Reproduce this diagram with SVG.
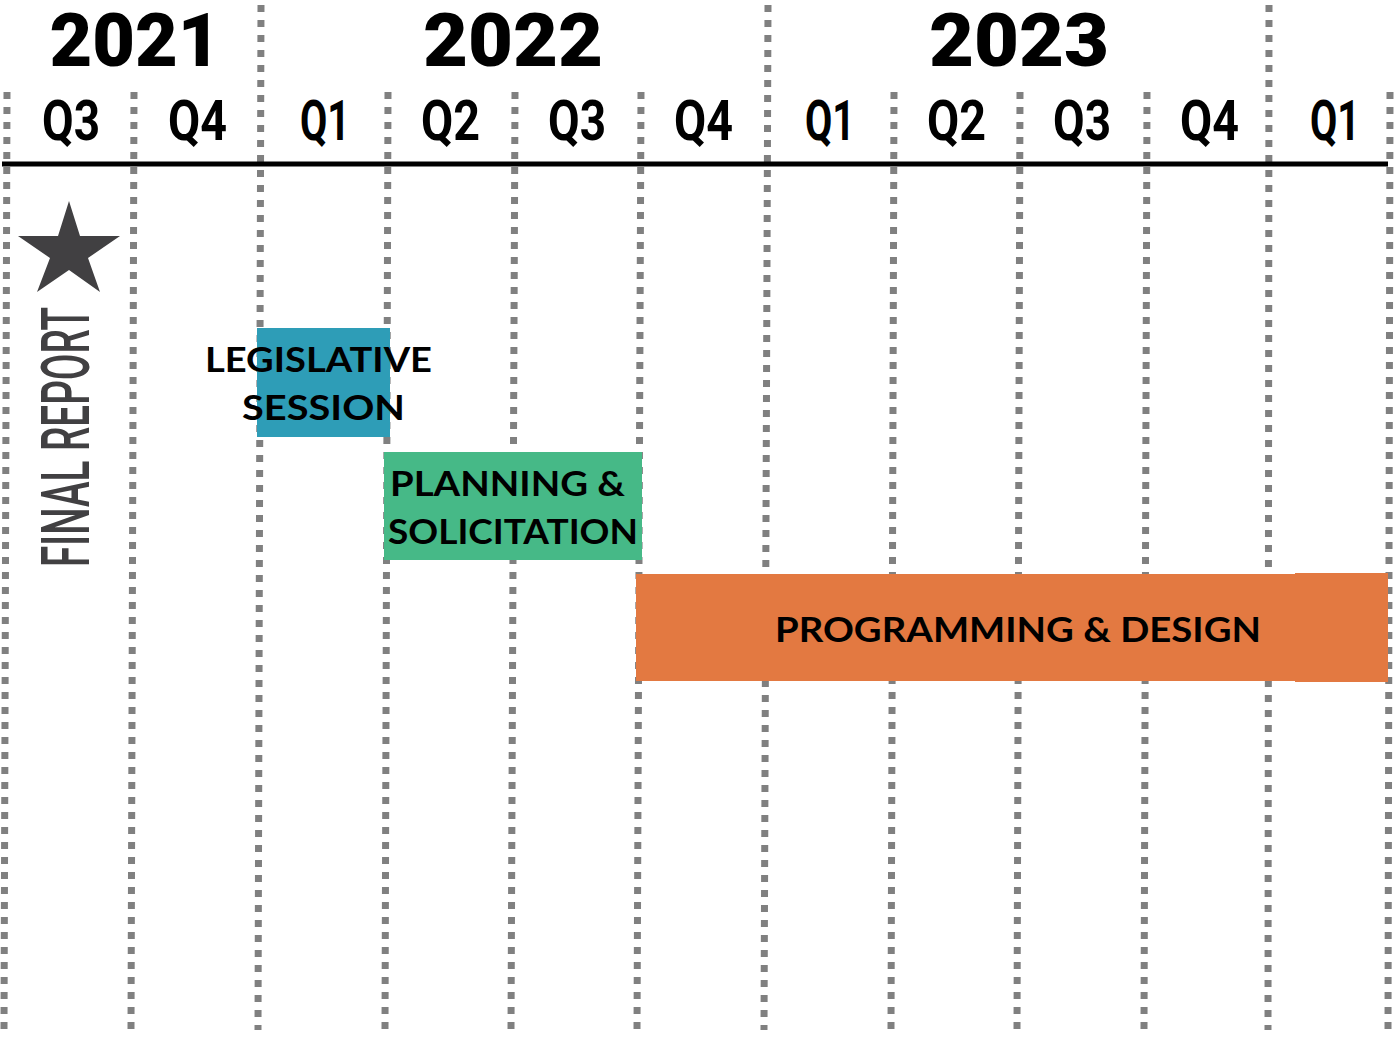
<svg xmlns="http://www.w3.org/2000/svg" width="1395" height="1037" viewBox="0 0 1395 1037">
  <style>
    .grid { stroke: #808080; stroke-width: 7; stroke-dasharray: 7 8; fill: none; }
    .axis { stroke: #000; stroke-width: 5; }
    .year { font-family: Roboto, "Liberation Sans", sans-serif; font-weight: 900; font-size: 74px; fill: #000; text-anchor: middle; }
    .qtr { font-family: Roboto, "Liberation Sans", sans-serif; font-weight: 700; font-size: 56px; fill: #000; }
    .bar-label { font-family: Lato, "Liberation Sans", sans-serif; font-weight: 700; font-size: 35px; fill: #000; }
    .milestone { font-family: Roboto, "Liberation Sans", sans-serif; font-weight: 500; font-size: 66px; fill: #414042; }
  </style>
  <rect width="1395" height="1037" fill="#fff"/>

  <!-- quarter / year grid lines -->
  <g id="connectors">
    <line class="grid" x1="7" y1="92" x2="4" y2="1030"/>
    <line class="grid" x1="134" y1="92" x2="131" y2="1030"/>
    <line class="grid" x1="261" y1="5" x2="258" y2="1030"/>
    <line class="grid" x1="388" y1="92" x2="385" y2="1030"/>
    <line class="grid" x1="515" y1="92" x2="511" y2="1030"/>
    <line class="grid" x1="641" y1="92" x2="637" y2="1030"/>
    <line class="grid" x1="768" y1="5" x2="764" y2="1030"/>
    <line class="grid" x1="894" y1="92" x2="891" y2="1030"/>
    <line class="grid" x1="1020" y1="92" x2="1017" y2="1030"/>
    <line class="grid" x1="1147" y1="92" x2="1144" y2="1030"/>
    <line class="grid" x1="1269" y1="5" x2="1268" y2="1030"/>
    <line class="grid" x1="1390" y1="92" x2="1388" y2="1030"/>
    <line class="axis" x1="2" y1="164" x2="1388" y2="164"/>
  </g>

  <!-- year headings -->
  <g id="years">
    <text class="year" x="135" y="66" textLength="171" lengthAdjust="spacingAndGlyphs">2021</text>
    <text class="year" x="513" y="66" textLength="180" lengthAdjust="spacingAndGlyphs">2022</text>
    <text class="year" x="1019" y="66" textLength="180" lengthAdjust="spacingAndGlyphs">2023</text>
  </g>

  <!-- quarter headings -->
  <g id="quarters">
    <text class="qtr" x="42" y="140" textLength="58" lengthAdjust="spacingAndGlyphs">Q3</text>
    <text class="qtr" x="168" y="140" textLength="59" lengthAdjust="spacingAndGlyphs">Q4</text>
    <text class="qtr" x="300" y="140" textLength="50" lengthAdjust="spacingAndGlyphs">Q1</text>
    <text class="qtr" x="421" y="140" textLength="59" lengthAdjust="spacingAndGlyphs">Q2</text>
    <text class="qtr" x="548" y="140" textLength="58" lengthAdjust="spacingAndGlyphs">Q3</text>
    <text class="qtr" x="674" y="140" textLength="59" lengthAdjust="spacingAndGlyphs">Q4</text>
    <text class="qtr" x="805" y="140" textLength="50" lengthAdjust="spacingAndGlyphs">Q1</text>
    <text class="qtr" x="927" y="140" textLength="59" lengthAdjust="spacingAndGlyphs">Q2</text>
    <text class="qtr" x="1053" y="140" textLength="58" lengthAdjust="spacingAndGlyphs">Q3</text>
    <text class="qtr" x="1180" y="140" textLength="59" lengthAdjust="spacingAndGlyphs">Q4</text>
    <text class="qtr" x="1310" y="140" textLength="50" lengthAdjust="spacingAndGlyphs">Q1</text>
  </g>

  <!-- final report milestone -->
  <g id="final-report">
    <polygon fill="#414042" points="69,201 80,236 120,236 88,258 100,292 69,270 37,292 50,258 18,236 58,236"/>
    <text class="milestone" transform="translate(89,567) rotate(-90)" x="0" y="0" textLength="260" lengthAdjust="spacingAndGlyphs">FINAL REPORT</text>
  </g>

  <!-- phase bars -->
  <g id="legislative-session">
    <rect x="257" y="328" width="133" height="109" fill="#2e9db7"/>
    <text class="bar-label" x="205" y="372" textLength="227" lengthAdjust="spacingAndGlyphs">LEGISLATIVE</text>
    <text class="bar-label" x="242" y="420" textLength="163" lengthAdjust="spacingAndGlyphs">SESSION</text>
  </g>

  <g id="planning-solicitation">
    <rect x="384" y="452" width="258" height="108" fill="#46b987"/>
    <text class="bar-label" x="390" y="496" textLength="235" lengthAdjust="spacingAndGlyphs">PLANNING &amp;</text>
    <text class="bar-label" x="388" y="544" textLength="250" lengthAdjust="spacingAndGlyphs">SOLICITATION</text>
  </g>

  <g id="programming-design">
    <rect x="636" y="574" width="752" height="107" fill="#e37941"/>
    <rect x="1295" y="573" width="93" height="109" fill="#e37941"/>
    <text class="bar-label" x="775" y="642" textLength="486" lengthAdjust="spacingAndGlyphs">PROGRAMMING &amp; DESIGN</text>
  </g>
</svg>
